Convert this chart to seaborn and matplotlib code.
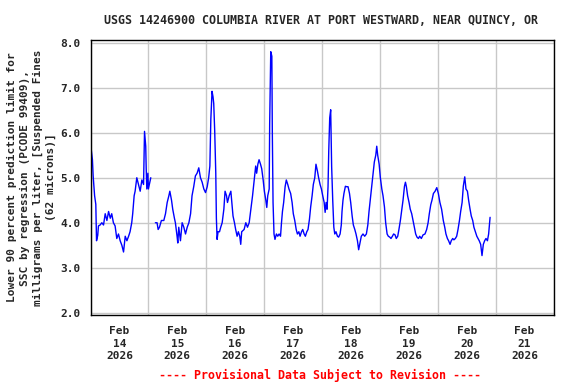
import numpy as np
import pandas as pd
import matplotlib
matplotlib.use("Agg")
import matplotlib.pyplot as plt
import matplotlib.dates as mdates
import seaborn as sns

# hours after 2026-02-14 00:00 (NaN = data gap)
hours = [
    0.3, 0.8, 1.1, 1.7, 2.2, 2.5, 3.0, 3.3, 4.0, 4.7, 5.4, 6.1, 6.8, 7.5, 8.2, 8.8,
    9.5, 10.2, 10.9, 11.6, 12.3, 13.0, 13.7, 14.4, 15.1, 15.8, 16.4, 17.1, 17.5, 18.1,
    18.5, 19.2, 19.9, 20.6, 21.3, 22.0, 22.4, 22.9, 23.1, 23.35, 23.8, 24.0, 24.6, 25.0,
    26.0,
    26.9, 27.6, 28.05, 28.6, 29.4, 30.4, 31.1, 31.8, 32.5, 32.9, 33.6, 34.1, 34.8, 35.2,
    35.9, 36.2, 36.6, 37.3, 38.0, 38.7, 39.4, 40.1, 40.8, 41.5, 42.1, 42.8, 43.5, 44.2,
    44.9, 45.6, 46.3, 47.0, 47.7, 48.4, 49.0, 49.5, 49.9, 50.4, 50.8, 51.1, 51.5, 51.95,
    52.2, 52.5, 52.9, 53.5, 54.0, 54.6, 55.3,
    55.8, 56.4, 56.8, 57.5, 58.2, 58.6, 59.1, 59.7, 60.2, 60.8, 61.3, 61.9, 62.3, 62.7,
    63.7, 64.4, 65.1, 65.8, 66.5, 67.2, 67.8, 68.5, 68.9, 69.4, 69.9, 70.5, 71.0, 71.6,
    72.1, 72.7, 73.1, 73.5, 74.1, 74.3, 74.75, 75.2, 75.4, 75.7, 76.1, 76.5, 77.1, 77.65,
    78.2, 78.8, 79.2, 79.6, 80.1, 80.7, 81.2, 81.8, 82.3, 83.0,
    83.6, 84.1, 84.7, 85.3, 85.8, 86.4, 86.9, 87.5, 88.0, 88.6, 89.1, 89.7, 90.2, 90.8,
    91.3, 91.9, 92.4, 93.0, 93.5, 94.1, 94.6, 95.2, 95.75, 96.3, 96.9, 97.3, 97.7, 98.1,
    98.5, 98.8, 99.2, 99.6, 100.0, 100.45, 100.9, 101.3, 101.8, 102.4, 102.9, 103.5,
    104.0, 104.3, 104.7, 105.1, 105.7, 106.25, 106.8, 107.4, 107.9, 108.5, 109.0, 109.6,
    110.1, 110.7, 111.2,
    112.3, 113.0, 113.7, 114.4, 115.0, 115.5, 116.1, 116.6, 117.2, 117.7, 118.3, 118.7,
    119.1, 119.7, 120.2, 120.8, 121.3, 121.9, 122.4, 123.0, 123.5, 124.1, 124.6, 125.2,
    125.7, 126.3, 126.8, 127.4, 127.9, 128.5, 129.0, 129.6, 130.2, 130.6, 131.0, 131.5,
    132.1, 132.6, 133.2, 133.75, 134.3, 134.85, 135.4, 136.0, 136.5, 137.2, 137.9,
    138.7, 139.4, 140.0, 140.5, 141.1, 141.6, 142.2, 142.9, 143.6, 144.25, 144.9, 145.6,
    146.3, 146.9, 147.4, 148.0, 148.5, 149.1, 149.6, 150.2, 150.7, 151.3, 151.85, 152.4,
    153.0, 153.5, 154.1, 154.6, 155.2, 155.7, 156.3, 156.8, 157.4, 157.9, 158.5, 159.0,
    159.6, 160.2, 160.7, 161.2, 161.8, 162.35, 162.9, 163.45, 164.0, 164.6, 165.1, 165.7,
]

ssc = [
    5.63, 5.40, 5.04, 4.60, 4.41, 3.60, 3.72, 3.93, 3.95, 4.00, 3.95, 4.20, 4.05, 4.25, 4.10, 4.20,
    4.00, 3.93, 3.65, 3.75, 3.60, 3.50, 3.35, 3.70, 3.60, 3.70, 3.80, 4.00, 4.20, 4.60,
    4.70, 5.00, 4.85, 4.70, 4.95, 4.85, 6.03, 5.70, 5.20, 4.75, 5.10, 4.75, 4.90, 5.00,
    np.nan,
    4.00, 4.00, 3.85, 3.90, 4.05, 4.05, 4.20, 4.45, 4.60, 4.70, 4.50, 4.30, 4.10, 4.00,
    3.70, 3.55, 3.90, 3.60, 4.00, 3.90, 3.75, 3.90, 4.00, 4.20, 4.60, 4.80, 5.04, 5.10,
    5.22, 5.00, 4.90, 4.75, 4.67, 4.80, 5.00, 5.26, 6.30, 6.92, 6.80, 6.65, 6.05, 5.10,
    4.10, 3.63, 3.80, 3.80, 3.90, 4.00, 4.30,
    4.70, 4.60, 4.45, 4.60, 4.70, 4.45, 4.15, 4.00, 3.85, 3.70, 3.80, 3.70, 3.52, 3.80,
    3.85, 4.00, 3.90, 4.00, 4.30, 4.60, 4.90, 5.26, 5.10, 5.30, 5.40, 5.30, 5.20, 4.95,
    4.70, 4.50, 4.34, 4.60, 4.75, 6.20, 7.80, 7.70, 6.00, 4.45, 3.75, 3.63, 3.75, 3.70,
    3.75, 3.70, 4.00, 4.25, 4.45, 4.80, 4.95, 4.85, 4.75, 4.65,
    4.45, 4.20, 4.05, 3.85, 3.75, 3.80, 3.70, 3.80, 3.85, 3.75, 3.70, 3.80, 3.85, 4.08,
    4.35, 4.60, 4.85, 5.00, 5.30, 5.15, 5.00, 4.85, 4.75, 4.60, 4.45, 4.23, 4.45, 4.30,
    4.80, 5.60, 6.33, 6.51, 5.25, 4.50, 3.90, 3.75, 3.80, 3.70, 3.68, 3.75,
    3.95, 4.25, 4.50, 4.65, 4.81, 4.80, 4.80, 4.65, 4.45, 4.15, 3.95, 3.85,
    3.75, 3.60, 3.40,
    3.70, 3.75, 3.70, 3.75, 3.95, 4.25, 4.55, 4.80, 5.10, 5.35, 5.50, 5.70,
    5.50, 5.30, 5.00, 4.75, 4.60, 4.35, 4.00, 3.75, 3.70, 3.68, 3.65, 3.70,
    3.75, 3.73, 3.65, 3.70, 3.85, 4.05, 4.25, 4.50, 4.81, 4.90, 4.80, 4.60,
    4.45, 4.30, 4.20, 4.05, 3.90, 3.75, 3.68, 3.65, 3.70, 3.65, 3.73,
    3.75, 3.85, 4.00, 4.20, 4.40, 4.50, 4.65, 4.70, 4.78, 4.65, 4.45, 4.30,
    4.05, 3.90, 3.75, 3.65, 3.60, 3.52, 3.60, 3.65, 3.62, 3.65, 3.70, 3.85,
    4.05, 4.25, 4.45, 4.81, 5.02, 4.75, 4.70, 4.50, 4.30, 4.15, 4.05, 3.90,
    3.80, 3.70, 3.65, 3.60, 3.52, 3.27, 3.52, 3.60, 3.65, 3.60, 3.75, 4.12,
]

start = pd.Timestamp("2026-02-14")
df = pd.DataFrame({"time": start + pd.to_timedelta(hours, unit="h"), "ssc": ssc})
df["segment"] = df["ssc"].isna().cumsum()
df = df.dropna()

sns.set_theme(style="white")
plt.rcParams["font.family"] = ["DejaVu Sans Mono"]
plt.rcParams["font.weight"] = "bold"

fig = plt.figure(figsize=(5.76, 3.84), dpi=100)
ax = fig.add_axes([90.5 / 576, 1 - 315 / 384, 463 / 576, 275 / 384])

sns.lineplot(data=df, x="time", y="ssc", units="segment", estimator=None,
             color="#0000ff", linewidth=1.0, ax=ax)

ax.set_xlim(start, start + pd.Timedelta(days=8))
ax.set_ylim(1.95, 8.06)
ax.set_yticks(np.arange(2.0, 8.01, 1.0))
ax.set_yticklabels([f"{v:.1f}" for v in np.arange(2.0, 8.01, 1.0)], fontsize=8, fontweight="bold")

ax.xaxis.set_major_locator(mdates.DayLocator())
ax.xaxis.set_major_formatter(plt.NullFormatter())
ax.xaxis.set_minor_locator(mdates.HourLocator(byhour=12))
ax.xaxis.set_minor_formatter(mdates.DateFormatter("%b\n%d\n%Y"))
ax.tick_params(axis="x", which="both", length=0, pad=8, labelsize=8)
ax.tick_params(axis="y", length=0, pad=7)
fig.canvas.draw()
for lbl in ax.get_xticklabels(minor=True):
    lbl.set_fontweight("bold")
    lbl.set_linespacing(1.3)

ax.grid(True, which="major", color="#c8c8c8", linewidth=1.0)
for s in ax.spines.values():
    s.set_color("black")
    s.set_linewidth(1.0)

ax.set_xlabel("")
ax.set_ylabel("Lower 90 percent prediction limit for\nSSC by regression (PCODE 99409),\n"
              "milligrams per liter, [Suspended Fines\n(62 microns)]",
              fontsize=8, fontweight="bold", va="center", linespacing=1.35)
ax.yaxis.set_label_coords(-0.128, 0.5)

fig.text(321 / 576, 1 - 20 / 384, "USGS 14246900 COLUMBIA RIVER AT PORT WESTWARD, NEAR QUINCY, OR",
         ha="center", va="center", fontsize=8.4, fontweight="bold")
fig.text(320 / 576, 1 - 375 / 384, "---- Provisional Data Subject to Revision ----",
         ha="center", va="center", fontsize=8.4, fontweight="bold", color="#ff0000")

fig.savefig("out.png", dpi=100)
